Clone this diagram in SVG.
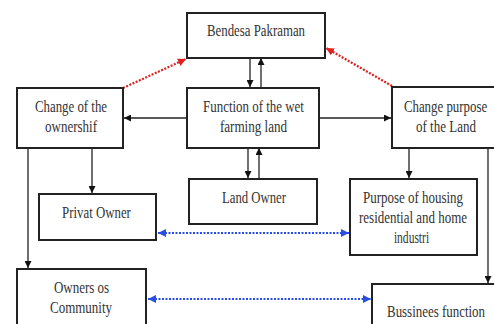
<svg xmlns="http://www.w3.org/2000/svg" width="494" height="324" viewBox="0 0 494 324">
<defs>
<style>
.box{fill:#fff;stroke:#222;stroke-width:2}
.t{font-family:'Liberation Serif','Times New Roman',Times,serif;font-size:16px;fill:#333;text-anchor:middle}
.c{stroke:#222;stroke-width:1.3;fill:none}
.red{stroke:#e02020;stroke-width:2.2;stroke-dasharray:2 1.5;fill:none}
.blue{stroke:#2a4fe0;stroke-width:2.2;stroke-dasharray:2 1.5;fill:none}
</style>
<marker id="ah" viewBox="0 0 10 10" refX="10" refY="5" markerWidth="7" markerHeight="7" markerUnits="userSpaceOnUse" orient="auto-start-reverse"><path d="M0,0L10,5L0,10z" fill="#111"/></marker>
<marker id="ar" viewBox="0 0 10 10" refX="10" refY="5" markerWidth="8" markerHeight="8" markerUnits="userSpaceOnUse" orient="auto-start-reverse"><path d="M0,0L10,5L0,10z" fill="#e02020"/></marker>
<marker id="ab" viewBox="0 0 10 10" refX="10" refY="5" markerWidth="8" markerHeight="8" markerUnits="userSpaceOnUse" orient="auto-start-reverse"><path d="M0,0L10,5L0,10z" fill="#2a4fe0"/></marker>
</defs>
<rect width="494" height="324" fill="#fff"/>
<g id="connectors">
<line class="c" x1="250" y1="58" x2="250" y2="87" marker-end="url(#ah)"/>
<line class="c" x1="261" y1="88" x2="261" y2="58" marker-end="url(#ah)"/>
<line class="c" x1="248" y1="148" x2="248" y2="178" marker-end="url(#ah)"/>
<line class="c" x1="259" y1="178" x2="259" y2="148" marker-end="url(#ah)"/>
<line class="c" x1="187" y1="118" x2="124" y2="118" marker-end="url(#ah)"/>
<line class="c" x1="319" y1="118" x2="391" y2="118" marker-end="url(#ah)"/>
<line class="c" x1="92" y1="148" x2="92" y2="193" marker-end="url(#ah)"/>
<line class="c" x1="28" y1="148" x2="28" y2="268" marker-end="url(#ah)"/>
<line class="c" x1="409" y1="148" x2="409" y2="178" marker-end="url(#ah)"/>
<line class="c" x1="488" y1="148" x2="488" y2="283" marker-end="url(#ah)"/>
<line class="red" x1="123" y1="88" x2="186" y2="59" marker-end="url(#ar)"/>
<line class="red" x1="392" y1="86" x2="326" y2="48" marker-end="url(#ar)"/>
<line class="blue" x1="158" y1="233" x2="349" y2="233" marker-start="url(#ab)" marker-end="url(#ab)"/>
<line class="blue" x1="148" y1="299" x2="371" y2="299" marker-start="url(#ab)" marker-end="url(#ab)"/>
</g>
<g id="bendesa"><rect class="box" x="187" y="13" width="138" height="45"/><text class="t" transform="translate(256,35.5) scale(0.8,1)" textLength="122.5" lengthAdjust="spacingAndGlyphs">Bendesa Pakraman</text></g>
<g id="change-ownership"><rect class="box" x="17" y="88" width="106" height="60"/><text class="t" transform="translate(71,112) scale(0.8,1)" textLength="90" lengthAdjust="spacingAndGlyphs">Change of the</text><text class="t" transform="translate(71,131.5) scale(0.8,1)" textLength="65" lengthAdjust="spacingAndGlyphs">ownershif</text></g>
<g id="function"><rect class="box" x="187" y="88" width="132" height="60"/><text class="t" transform="translate(253.5,112) scale(0.8,1)" textLength="126" lengthAdjust="spacingAndGlyphs">Function of the wet</text><text class="t" transform="translate(253.5,132) scale(0.8,1)" textLength="84" lengthAdjust="spacingAndGlyphs">farming land</text></g>
<g id="change-purpose"><rect class="box" x="392" y="87" width="110" height="61"/><text class="t" transform="translate(445.5,111.5) scale(0.8,1)" textLength="104" lengthAdjust="spacingAndGlyphs">Change purpose</text><text class="t" transform="translate(446,131.5) scale(0.8,1)" textLength="75" lengthAdjust="spacingAndGlyphs">of the Land</text></g>
<g id="land-owner"><rect class="box" x="189" y="179" width="128" height="45"/><text class="t" transform="translate(254,202.7) scale(0.8,1)" textLength="80" lengthAdjust="spacingAndGlyphs">Land Owner</text></g>
<g id="privat-owner"><rect class="box" x="39" y="194" width="117" height="46"/><text class="t" transform="translate(96.5,218) scale(0.8,1)" textLength="86" lengthAdjust="spacingAndGlyphs">Privat Owner</text></g>
<g id="purpose-housing"><rect class="box" x="350" y="179" width="127" height="76"/><text class="t" transform="translate(413,203.3) scale(0.8,1)" textLength="125" lengthAdjust="spacingAndGlyphs">Purpose of housing</text><text class="t" transform="translate(413,223.3) scale(0.8,1)" textLength="135" lengthAdjust="spacingAndGlyphs">residential and home</text><text class="t" transform="translate(411.5,242.5) scale(0.8,1)" textLength="44" lengthAdjust="spacingAndGlyphs">industri</text></g>
<g id="owners-community"><rect class="box" x="17" y="269" width="129" height="70"/><text class="t" transform="translate(81.5,292.7) scale(0.8,1)" textLength="69" lengthAdjust="spacingAndGlyphs">Owners os</text><text class="t" transform="translate(81,313) scale(0.8,1)" textLength="77.5" lengthAdjust="spacingAndGlyphs">Community</text></g>
<g id="business"><rect class="box" x="372" y="284" width="140" height="60"/><text class="t" transform="translate(436,316.5) scale(0.8,1)" textLength="122.5" lengthAdjust="spacingAndGlyphs">Bussinees function</text></g>
</svg>
